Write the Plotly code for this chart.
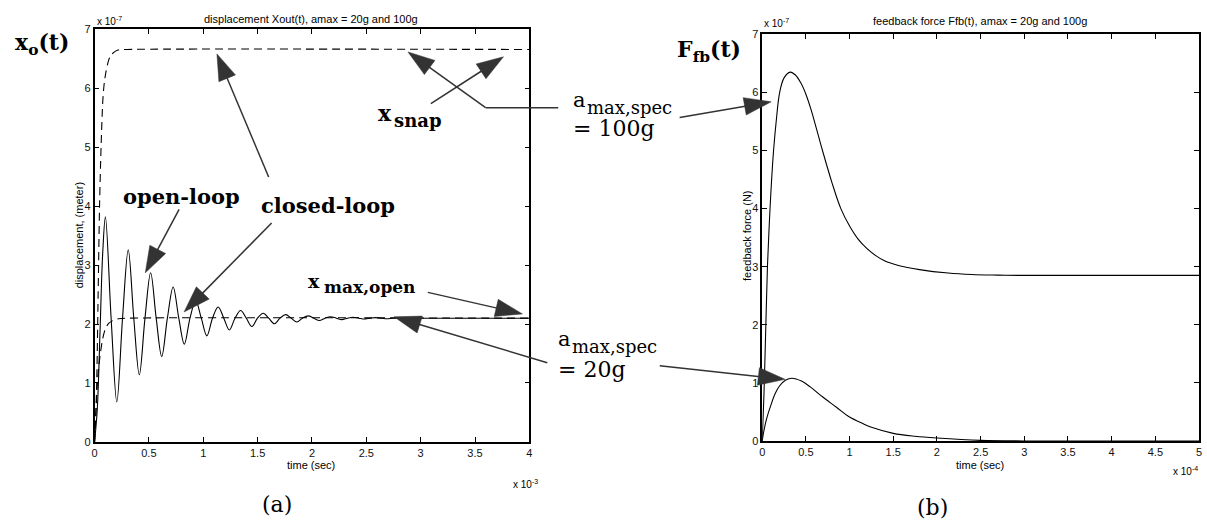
import math
import plotly.graph_objects as go

W, H = 1207, 531

# ---------------- Left panel: displacement (time in 1e-3 s, x in 1e-7 m)
open_t = [0, 0.025, 0.05, 0.075, 0.100, 0.1525, 0.205, 0.2575, 0.310, 0.361, 0.412, 0.464,
          0.516, 0.567, 0.618, 0.670, 0.723, 0.775, 0.826, 0.878, 0.930, 0.982, 1.033, 1.085,
          1.137, 1.189, 1.240, 1.292, 1.344, 1.396, 1.447, 1.499, 1.551, 1.603, 1.654, 1.706,
          1.758, 1.810, 1.861, 1.913, 1.965, 2.017, 2.068, 2.120, 2.172, 2.224, 2.275, 2.327,
          2.379, 2.431, 2.482, 2.534, 2.586, 2.638, 2.689, 2.741, 2.793, 2.845, 2.896, 2.948,
          3.0, 4.0]
open_x = [0, 0.55, 1.85, 3.2, 3.82, 2.1, 0.68, 2.1, 3.26, 2.1, 1.14, 2.1,
          2.87, 2.1, 1.45, 2.1, 2.63, 2.1, 1.66, 2.1, 2.40, 2.1, 1.80, 2.1,
          2.29, 2.1, 1.90, 2.1, 2.23, 2.1, 1.96, 2.1, 2.185, 2.1, 2.005, 2.1,
          2.16, 2.1, 2.035, 2.1, 2.14, 2.1, 2.06, 2.1, 2.125, 2.1, 2.075, 2.1,
          2.115, 2.1, 2.085, 2.1, 2.11, 2.1, 2.09, 2.1, 2.105, 2.1, 2.095, 2.1,
          2.1, 2.1]

cl20_t = [0, 0.01, 0.03, 0.05, 0.076, 0.1, 0.13, 0.168, 0.22, 0.3, 4.0]
cl20_x = [0, 0.4, 1.09, 1.45, 1.76, 1.92, 2.01, 2.06, 2.09, 2.1, 2.1]

cl100_t = [0, 0.01, 0.02, 0.033, 0.046, 0.06, 0.076, 0.09, 0.106, 0.13, 0.153, 0.214, 0.3, 4.0]
cl100_x = [0, 0.4, 1.0, 2.5, 4.0, 5.0, 5.79, 6.1, 6.29, 6.48, 6.57, 6.65, 6.66, 6.66]

left_xticks = [0, 0.5, 1, 1.5, 2, 2.5, 3, 3.5, 4]
left_yticks = [0, 1, 2, 3, 4, 5, 6, 7]

# ---------------- Right panel: feedback force (time in 1e-4 s, F in 1e-7 N)
f100_t = [0, 0.02, 0.04, 0.06, 0.08, 0.10, 0.13, 0.16, 0.20, 0.25, 0.32, 0.38, 0.44, 0.50,
          0.56, 0.62, 0.69, 0.80, 0.90, 1.0, 1.1, 1.2, 1.3, 1.4, 1.56, 1.8, 2.13, 2.4, 2.7,
          3.0, 5.0]
f100_f = [0, 0.8, 1.9, 3.0, 3.7, 4.3, 5.0, 5.5, 6.0, 6.25, 6.35, 6.3, 6.17, 5.97,
          5.7, 5.38, 5.0, 4.44, 4.0, 3.7, 3.47, 3.31, 3.19, 3.1, 3.02, 2.95, 2.89, 2.865, 2.855,
          2.85, 2.85]

f20_t = [0, 0.02, 0.05, 0.1, 0.15, 0.2, 0.27, 0.34, 0.45, 0.55, 0.69, 0.85, 0.99, 1.15,
         1.26, 1.5, 1.75, 2.0, 2.5, 3.0, 5.0]
f20_f = [0, 0.18, 0.38, 0.62, 0.82, 0.95, 1.05, 1.08, 1.03, 0.93, 0.76, 0.58, 0.42, 0.30,
         0.23, 0.13, 0.08, 0.05, 0.01, 0.0, 0.0]

right_xticks = [0, 0.5, 1, 1.5, 2, 2.5, 3, 3.5, 4, 4.5, 5]
right_yticks = [0, 1, 2, 3, 4, 5, 6, 7]


def px(x):
    return x / W


def py(y):
    return 1 - y / H


fig = go.Figure()
line_solid = dict(color="black", width=1.1, shape="spline", smoothing=1.0)
line_dash = dict(color="black", width=1.1, dash="8px,5px", shape="spline", smoothing=0.8)

fig.add_trace(go.Scatter(x=open_t, y=open_x, mode="lines", line=line_solid, xaxis="x", yaxis="y"))
fig.add_trace(go.Scatter(x=cl20_t, y=cl20_x, mode="lines", line=line_dash, xaxis="x", yaxis="y"))
fig.add_trace(go.Scatter(x=cl100_t, y=cl100_x, mode="lines", line=line_dash, xaxis="x", yaxis="y"))
fig.add_trace(go.Scatter(x=f100_t, y=f100_f, mode="lines", line=line_solid, xaxis="x2", yaxis="y2"))
fig.add_trace(go.Scatter(x=f20_t, y=f20_f, mode="lines", line=line_solid, xaxis="x2", yaxis="y2"))

tickfont = dict(family="Liberation Sans Narrow, Liberation Sans, Arial", size=11, color="#111")
ax_common = dict(showgrid=False, zeroline=False, showline=True, linecolor="black",
                 mirror="ticks", ticks="inside", ticklen=5, tickcolor="black", tickwidth=1,
                 tickfont=tickfont)

fig.update_layout(
    width=W, height=H, margin=dict(l=0, r=0, t=0, b=0),
    paper_bgcolor="white", plot_bgcolor="white", showlegend=False,
    xaxis=dict(domain=[px(92), px(529)], range=[0, 4], tickvals=left_xticks,
               anchor="y", linewidth=2, **ax_common),
    yaxis=dict(domain=[py(446), py(24)], range=[0, 7], tickvals=left_yticks,
               anchor="x", linewidth=1.5, **ax_common),
    xaxis2=dict(domain=[px(763), px(1202)], range=[0, 5], tickvals=right_xticks,
                anchor="y2", linewidth=2, **ax_common),
    yaxis2=dict(domain=[py(445), py(29)], range=[0, 7], tickvals=right_yticks,
                anchor="x2", linewidth=1.5, **ax_common),
)

SANS = "Liberation Sans Narrow, Liberation Sans, Arial"
SERIF = "DejaVu Serif"
ann = []


def text(x, y, s, size, family=SERIF, xanchor="left", yanchor="middle", angle=0, color="black"):
    ann.append(dict(x=px(x), y=py(y), xref="paper", yref="paper", text=s, showarrow=False,
                    xanchor=xanchor, yanchor=yanchor, textangle=angle,
                    font=dict(family=family, size=size, color=color)))


# small MATLAB-style texts
text(310, 13, "displacement Xout(t), amax = 20g and 100g", 11, SANS, xanchor="center")
text(982, 15, "feedback force Ffb(t), amax = 20g and 100g", 11, SANS, xanchor="center")
text(310, 470, "time (sec)", 11, SANS, xanchor="center")
text(982, 470, "time (sec)", 11, SANS, xanchor="center")
text(76, 235, "displacement, (meter)", 11, SANS, xanchor="center", angle=-90)
text(747, 235, "feedback force (N)", 11, SANS, xanchor="center", angle=-90)
text(92, 15, "x 10<sup>-7</sup>", 10, SANS)
text(763, 17, "x 10<sup>-7</sup>", 10, SANS)
text(540, 489, "x 10<sup>-3</sup>", 10, SANS, xanchor="right")
text(1203, 476, "x 10<sup>-4</sup>", 10, SANS, xanchor="right")

# big labels
text(10, 39, "<b>x<sub>o</sub>(t)</b>", 22)
text(675, 46, "<b>F<sub>fb</sub>(t)</b>", 22)
text(119, 195, "<b>open-loop</b>", 21)
text(257, 204, "<b>closed-loop</b>", 21)
text(375, 109, "<b>x</b>", 22)
text(391, 117, "<b>snap</b>", 18)
text(305, 281, "<b>x</b>", 19)
text(321, 288, "<b>max,open</b>", 17)
text(571, 96, "a", 21)
text(585, 104, "max,spec", 18)
text(571, 125, "= 100g", 22)
text(556, 341, "a", 21)
text(570, 348, "max,spec", 18)
text(556, 372, "= 20g", 22)
text(275, 510, "(a)", 22, xanchor="center")
text(934, 513, "(b)", 22, xanchor="center")

shapes = []
ACOL = "#333333"


def seg(x0, y0, x1, y1):
    shapes.append(dict(type="line", xref="paper", yref="paper", x0=px(x0), y0=py(y0),
                       x1=px(x1), y1=py(y1), line=dict(color=ACOL, width=1.5)))


def arrow(x0, y0, x1, y1, L=27, Wd=18):
    dx, dy = x1 - x0, y1 - y0
    d = math.hypot(dx, dy)
    ux, uy = dx / d, dy / d
    bx, by = x1 - ux * L, y1 - uy * L
    nx, ny = -uy, ux
    p1 = (bx + nx * Wd / 2, by + ny * Wd / 2)
    p2 = (bx - nx * Wd / 2, by - ny * Wd / 2)
    seg(x0, y0, bx + ux * 2, by + uy * 2)
    path = "M {} {} L {} {} L {} {} Z".format(px(x1), py(y1), px(p1[0]), py(p1[1]),
                                              px(p2[0]), py(p2[1]))
    shapes.append(dict(type="path", xref="paper", yref="paper", path=path,
                       fillcolor=ACOL, line=dict(color=ACOL, width=0.5)))


arrow(177, 208, 143, 273)          # open-loop
arrow(270, 222, 182, 313)          # closed-loop (lower)
arrow(267, 175, 215, 49)           # closed-loop (upper)
arrow(430, 100, 503, 52)           # x_snap
seg(558, 104, 485, 104)
arrow(485, 104, 407, 47)           # 100g -> left plot
arrow(680, 114, 772, 98)           # 100g -> right plot
arrow(427, 293, 522, 315)          # x_max,open
arrow(547, 365, 393, 318)          # 20g -> left plot
arrow(660, 368, 786, 382)          # 20g -> right plot

fig.update_layout(annotations=ann, shapes=shapes)
fig.write_html("out.html", config={"displayModeBar": False},
               post_script="document.body.style.margin='0';document.body.style.padding='0';"
                           "document.body.style.overflow='hidden';")
